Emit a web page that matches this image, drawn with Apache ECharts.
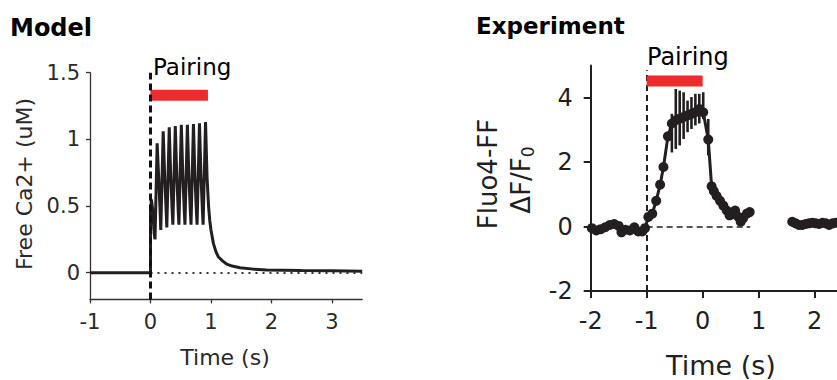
<!DOCTYPE html>
<html>
<head>
<meta charset="utf-8">
<script src="https://cdn.jsdelivr.net/npm/echarts@6/dist/echarts.min.js"></script>
<style>
html, body { margin: 0; padding: 0; background: #fff; }
#chart { width: 837px; height: 380px; }
</style>
</head>
<body>
<div id="chart"></div>
<script>
// Model: free Ca2+ (uM) over time (s)
var modelTime = [-1, 0, 0, 0.015, 0.035, 0.06, 0.075,
	0.11, 0.135, 0.16, 0.17,
	0.21, 0.235, 0.26, 0.27,
	0.31, 0.335, 0.36, 0.37,
	0.41, 0.435, 0.46, 0.47,
	0.51, 0.535, 0.56, 0.57,
	0.61, 0.635, 0.66, 0.67,
	0.71, 0.735, 0.76, 0.77,
	0.81, 0.835, 0.86, 0.87,
	0.91, 0.935, 0.96, 0.98, 1.0, 1.04, 1.08, 1.12, 1.2, 1.26, 1.35, 1.48, 1.7, 1.92, 2.5, 3.0, 3.5];
var modelCa = [0, 0, 0.45, 0.55, 0.48, 0.3, 0.25,
	0.97, 0.72, 0.45, 0.32,
	1.06, 0.72, 0.45, 0.34,
	1.09, 0.72, 0.45, 0.36,
	1.1, 0.72, 0.45, 0.36,
	1.11, 0.72, 0.45, 0.36,
	1.11, 0.72, 0.45, 0.36,
	1.115, 0.72, 0.45, 0.36,
	1.12, 0.72, 0.45, 0.36,
	1.13, 0.72, 0.5, 0.39, 0.32, 0.22, 0.16, 0.12, 0.085, 0.065, 0.05, 0.038, 0.027, 0.02, 0.016, 0.014, 0.012];

// Experiment: Fluo4-FF dF/F0, before and after the imaging gap
var expTime = [-1.98, -1.9, -1.82, -1.74, -1.66, -1.58, -1.5, -1.45, -1.38, -1.3, -1.22, -1.15, -1.08, -1.03,
	-0.97, -0.9, -0.83, -0.76, -0.7, -0.62, -0.55, -0.48, -0.41, -0.34, -0.27, -0.2, -0.13, -0.06, 0.01,
	0.1, 0.16, 0.2, 0.25, 0.31, 0.37, 0.43, 0.48, 0.52, 0.58, 0.64, 0.68, 0.72, 0.79, 0.84];
var expDff = [-0.05, -0.12, -0.08, -0.02, 0.05, 0.08, 0.02, -0.18, -0.1, -0.12, -0.02, -0.15, -0.15, -0.05,
	0.3, 0.4, 0.8, 1.3, 1.85, 2.8, 3.2, 3.3, 3.35, 3.4, 3.45, 3.5, 3.55, 3.65, 3.55,
	2.7, 1.25, 1.1, 0.95, 0.8, 0.65, 0.5, 0.35, 0.38, 0.5, 0.3, 0.15, 0.25, 0.4, 0.45];
var expTime2 = [1.6, 1.66, 1.72, 1.78, 1.84, 1.9, 1.96, 2.02, 2.08, 2.14, 2.2, 2.26, 2.32, 2.38, 2.44];
var expDff2 = [0.15, 0.1, 0.05, 0.05, 0.08, 0.1, 0.12, 0.1, 0.08, 0.12, 0.1, 0.05, 0.1, 0.12, 0.1];

// error bars during pairing
var errTime = [-0.55, -0.48, -0.41, -0.34, -0.27, -0.2, -0.13, -0.06, 0.01, 0.1];
var errLow = [2.3, 2.41, 2.52, 2.72, 2.93, 3.03, 3.14, 3.2, 3.34, 2.21];
var errHigh = [3.5, 4.27, 4.22, 4.17, 3.91, 4.02, 4.12, 4.12, 4.17, 3.34];

// pairing bars [start, end, level]
var modelPairing = [0, 0.95, 1.33];
var expPairing = [-1, 0, 4.52];

var modelXTicks = [-1, 0, 1, 2, 3];
var modelYTicks = [0, 0.5, 1, 1.5];
var expXTicks = [-2, -1, 0, 1, 2];
var expYTicks = [-2, 0, 2, 4];

function pairs(xs, ys){
	var out = [];
	for(var i=0;i<xs.length;i++){
		out.push([xs[i], ys[i]]);
	}
	return out;
}

var ink = '#231f20';
var grey = '#2a2a2a';
var font = 'DejaVu Sans';
var errData = [];
for(var i=0;i<errTime.length;i++){
	errData.push([errTime[i], errLow[i], errHigh[i]]);
}

var myChart = echarts.init(document.getElementById('chart'), null, {renderer: 'svg'});
var option = {
	animation: false,
	textStyle: { fontFamily: font },
	grid: [
		{ left: 90, top: 72.7, width: 272.2, height: 226.7 },
		{ left: 590.7, top: 65.5, width: 246.3, height: 225.5 }
	],
	xAxis: [{
		gridIndex: 0, type: 'value', min: -1, max: 3.5,
		axisLine: { onZero: false, lineStyle: { color: '#333', width: 1.3 } },
		axisTick: { customValues: modelXTicks, length: 4, lineStyle: { color: '#333', width: 1.3 } },
		axisLabel: { customValues: modelXTicks, fontSize: 21, color: grey, margin: 12 },
		splitLine: { show: false }
	},{
		gridIndex: 1, type: 'value', min: -2, max: 2.4,
		axisLine: { onZero: false, lineStyle: { color: ink, width: 2 } },
		axisTick: { customValues: expXTicks, length: 7, lineStyle: { color: ink, width: 2 } },
		axisLabel: { customValues: expXTicks, fontSize: 24, color: ink, margin: 18 },
		splitLine: { show: false }
	}],
	yAxis: [{
		gridIndex: 0, type: 'value', min: -0.2, max: 1.5,
		axisLine: { show: true, onZero: false, lineStyle: { color: '#333', width: 1.3 } },
		axisTick: { show: true, customValues: modelYTicks, length: 4, lineStyle: { color: '#333', width: 1.3 } },
		axisLabel: { customValues: modelYTicks, fontSize: 21, color: grey, margin: 10 },
		splitLine: { show: false }
	},{
		gridIndex: 1, type: 'value', min: -2, max: 5,
		axisLine: { show: true, onZero: false, lineStyle: { color: ink, width: 2 } },
		axisTick: { show: true, customValues: expYTicks, length: 7, lineStyle: { color: ink, width: 2 } },
		axisLabel: { customValues: expYTicks, fontSize: 24, color: ink, margin: 18 },
		splitLine: { show: false }
	}],
	series: [
		{
			name: 'model', type: 'line', xAxisIndex: 0, yAxisIndex: 0,
			data: pairs(modelTime, modelCa),
			showSymbol: false, symbol: 'none',
			lineStyle: { color: ink, width: 3 },
			markLine: {
				silent: true, symbol: 'none', label: { show: false },
				data: [
					[{ coord: [0, 0] }, { coord: [3.5, 0], lineStyle: { color: '#333', width: 2, type: [2, 5] } }],
					[{ coord: [0, -0.2] }, { coord: [0, 1.5], lineStyle: { color: '#111', width: 3, type: [7, 4] } }]
				]
			},
			z: 3
		},
		{
			name: 'modelPairing', type: 'line', xAxisIndex: 0, yAxisIndex: 0,
			data: [[modelPairing[0], modelPairing[2]], [modelPairing[1], modelPairing[2]]],
			symbol: 'none', lineStyle: { color: '#ee2a2a', width: 11, cap: 'butt' }, z: 4
		},
		{
			name: 'expRefs', type: 'line', xAxisIndex: 1, yAxisIndex: 1,
			data: [], symbol: 'none',
			markLine: {
				silent: true, symbol: 'none', label: { show: false },
				data: [
					[{ coord: [-1, 0] }, { coord: [0.85, 0], lineStyle: { color: ink, width: 1.5, type: [6, 4] } }],
					[{ coord: [-1, -2] }, { coord: [-1, 4.85], lineStyle: { color: ink, width: 2, type: [6, 4] } }]
				]
			}
		},
		{
			name: 'err', type: 'custom', xAxisIndex: 1, yAxisIndex: 1,
			data: errData,
			encode: { x: 0, y: [1, 2] },
			renderItem: function(params, api){
				var lo = api.coord([api.value(0), api.value(1)]);
				var hi = api.coord([api.value(0), api.value(2)]);
				return {
					type: 'line',
					shape: { x1: lo[0], y1: lo[1], x2: hi[0], y2: hi[1] },
					style: { stroke: ink, lineWidth: 2.6 }
				};
			},
			z: 3
		},
		{
			name: 'exp', type: 'line', xAxisIndex: 1, yAxisIndex: 1,
			data: pairs(expTime, expDff),
			symbol: 'circle', symbolSize: 10, showAllSymbol: true,
			itemStyle: { color: ink },
			lineStyle: { color: ink, width: 3 },
			z: 4
		},
		{
			name: 'exp2', type: 'line', xAxisIndex: 1, yAxisIndex: 1,
			data: pairs(expTime2, expDff2),
			symbol: 'circle', symbolSize: 10, showAllSymbol: true,
			itemStyle: { color: ink },
			lineStyle: { color: ink, width: 3 },
			z: 4
		},
		{
			name: 'expPairing', type: 'line', xAxisIndex: 1, yAxisIndex: 1,
			data: [[expPairing[0], expPairing[2]], [expPairing[1], expPairing[2]]],
			symbol: 'none', lineStyle: { color: '#ee2a2a', width: 11, cap: 'butt' }, z: 5
		}
	],
	graphic: [
		{ type: 'text', x: 10, y: 28, style: { text: 'Model', font: 'bold 24px "DejaVu Sans"', fill: '#000', align: 'left', verticalAlign: 'middle' } },
		{ type: 'text', x: 476, y: 26, style: { text: 'Experiment', font: 'bold 23px "DejaVu Sans"', fill: '#000', align: 'left', verticalAlign: 'middle' } },
		{ type: 'text', x: 153, y: 67, style: { text: 'Pairing', font: '23px "DejaVu Sans"', fill: '#000', align: 'left', verticalAlign: 'middle' } },
		{ type: 'text', x: 647, y: 57, style: { text: 'Pairing', font: '24px "DejaVu Sans"', fill: '#000', align: 'left', verticalAlign: 'middle' } },
		{ type: 'text', x: 225, y: 357, style: { text: 'Time (s)', font: '22px "DejaVu Sans"', fill: grey, align: 'center', verticalAlign: 'middle' } },
		{ type: 'text', x: 721, y: 365, style: { text: 'Time (s)', font: '27px "DejaVu Sans"', fill: ink, align: 'center', verticalAlign: 'middle' } },
		{ type: 'text', x: 24, y: 184, rotation: Math.PI / 2, style: { text: 'Free Ca2+ (uM)', font: '22px "DejaVu Sans"', fill: grey, align: 'center', verticalAlign: 'middle' } },
		{ type: 'text', x: 488, y: 174, rotation: Math.PI / 2, style: { text: 'Fluo4-FF', font: '26px "DejaVu Sans"', fill: ink, align: 'center', verticalAlign: 'middle' } },
		{ type: 'text', x: 521, y: 180, rotation: Math.PI / 2, style: {
			text: '{m|ΔF/F}{s|0}', align: 'center', verticalAlign: 'middle',
			rich: {
				m: { font: '26px "DejaVu Sans"', fill: ink, lineHeight: 30 },
				s: { font: '17px "DejaVu Sans"', fill: ink, lineHeight: 17, verticalAlign: 'bottom' }
			}
		} }
	]
};
myChart.setOption(option);
</script>
</body>
</html>
